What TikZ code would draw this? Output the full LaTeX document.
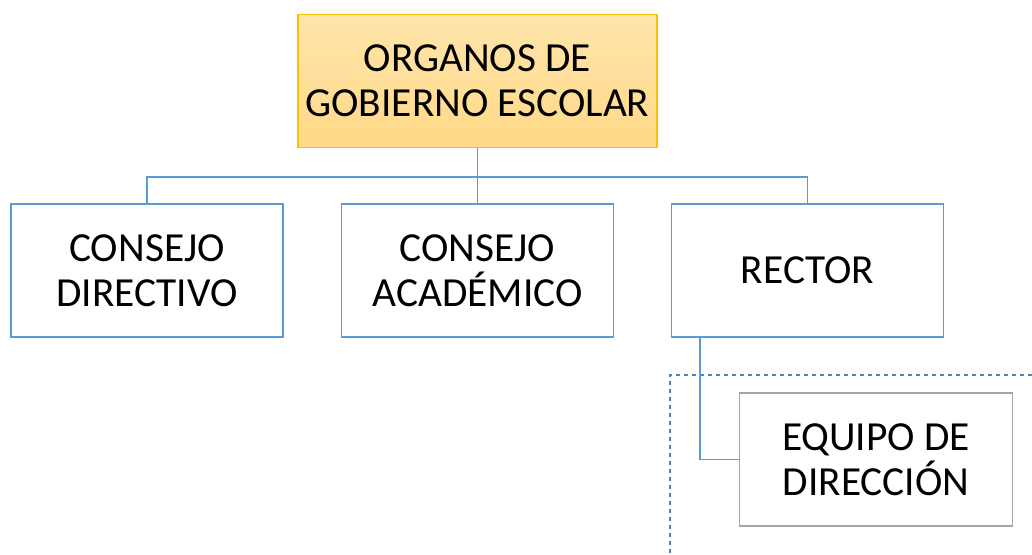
\documentclass[tikz,border=0pt]{standalone}
\usepackage{fontspec}
\setmainfont{Carlito}
\usepackage{tikz}
\usetikzlibrary{positioning, calc}
\definecolor{linkblue}{RGB}{91, 155, 213}
\definecolor{goldedge}{RGB}{255, 192, 0}
\definecolor{goldfill}{RGB}{255, 217, 135}
\definecolor{greyedge}{RGB}{165, 165, 165}
\definecolor{dashblue}{RGB}{84, 130, 180}

\begin{document}
\begin{tikzpicture}[x=0.75pt, y=-0.75pt,
  orgbox/.style={draw=linkblue, line width=1.1pt, align=center, font=\fontsize{31}{34}\selectfont,
    minimum width=204pt, minimum height=100pt, inner sep=0pt},
  link/.style={draw=linkblue, line width=1.1pt}]
  \useasboundingbox (0, 0) rectangle (1032, 555);

  % Top box
  \node[orgbox, draw=goldedge, top color=goldfill!70, bottom color=goldfill,
    minimum width=269pt] (gob) at (477.5, 81) {ORGANOS DE\\GOBIERNO ESCOLAR};

  % Second row
  \node[orgbox] (cdir) at (147, 270.5) {CONSEJO\\DIRECTIVO};
  \node[orgbox] (cacad) at (477.5, 270.5) {CONSEJO\\ACADÉMICO};
  \node[orgbox] (rect) at (807.5, 270.5) {RECTOR};

  % Assistant box and its dashed frame
  \draw[dashblue, line width=1.1pt, dashed] (1040, 375) -- (670, 375) -- (670, 560);
  \node[orgbox, draw=greyedge, minimum width=205pt] (equipo) at (876, 459.5) {EQUIPO DE\\DIRECCIÓN};

  % Connectors
  \coordinate (bus) at (477.5, 177);
  \draw[link] (gob.south) -- (bus);
  \draw[link] (cdir.north) |- (bus) -| (rect.north);
  \draw[link] (bus) -- (cacad.north);
  \draw[link] (rect.south west) ++(29, 0) coordinate (rdrop) |- (equipo.west);
\end{tikzpicture}
\end{document}
